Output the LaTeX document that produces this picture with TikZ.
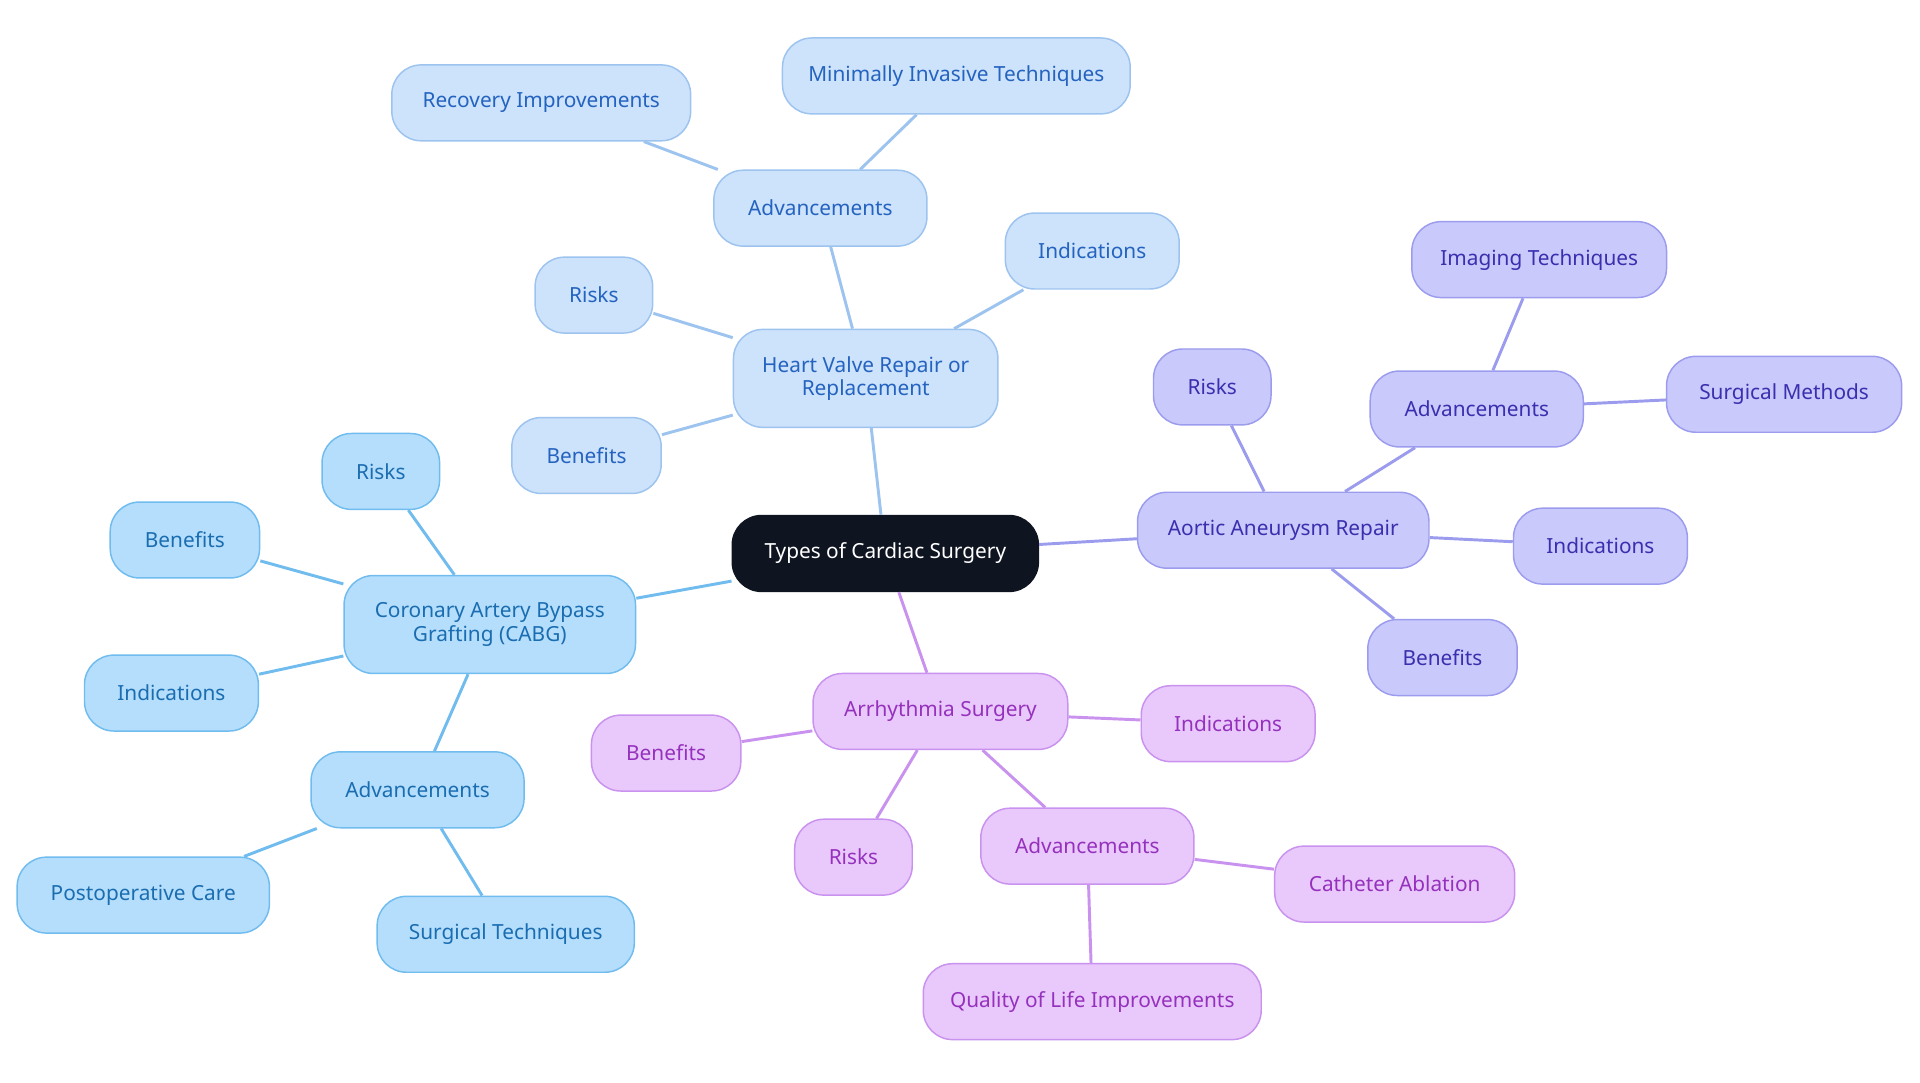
\documentclass[tikz,border=0pt]{standalone}
\usepackage{fontspec}
\setmainfont{Noto Sans}
\begin{document}
\begin{tikzpicture}[x=0.5pt,y=-0.5pt,
 base/.style={rounded corners=12pt,draw,line width=0.6pt,align=center,inner sep=0pt,minimum height=31pt,font=\fontsize{8.5}{9.5}\selectfont},
 wd/.style={minimum width=#1*0.5pt},
 cb/.style={base,fill=cbF,draw=cbD,text=cbT},
 hv/.style={base,fill=hvF,draw=hvD,text=hvT},
 ao/.style={base,fill=aoF,draw=aoD,text=aoT},
 ar/.style={base,fill=arF,draw=arD,text=arT},
 ecb/.style={draw=cbD,line width=1.2pt},
 ehv/.style={draw=hvD,line width=1.2pt},
 eao/.style={draw=aoD,line width=1.2pt},
 ear/.style={draw=arD,line width=1.2pt}]
\definecolor{cbF}{HTML}{B5DEFC}\definecolor{cbD}{HTML}{70BCEE}\definecolor{cbT}{HTML}{1A6DB0}
\definecolor{hvF}{HTML}{CDE2FB}\definecolor{hvD}{HTML}{9DC3EF}\definecolor{hvT}{HTML}{2463BF}
\definecolor{aoF}{HTML}{C9C9FB}\definecolor{aoD}{HTML}{9C9CEE}\definecolor{aoT}{HTML}{3A2FAE}
\definecolor{arF}{HTML}{E9C9FB}\definecolor{arD}{HTML}{C992EE}\definecolor{arT}{HTML}{9531BD}
\useasboundingbox (0,0) rectangle (1568,884);
\node[base,fill={rgb,255:red,14;green,20;blue,32},draw={rgb,255:red,14;green,20;blue,32},text=white,wd=250] (c) at (723,452) {Types of Cardiac Surgery};
% CABG
\node[cb,wd=238,minimum height=40pt] (cabg) at (400,510) {Coronary Artery Bypass\\Grafting (CABG)};
\node[cb,wd=96] (cr) at (311,385) {Risks};
\node[cb,wd=122] (cbn) at (151,441) {Benefits};
\node[cb,wd=142] (ci) at (140,566) {Indications};
\node[cb,wd=174] (ca) at (341,645) {Advancements};
\node[cb,wd=206] (cp) at (117,731) {Postoperative Care};
\node[cb,wd=210] (cs) at (413,763) {Surgical Techniques};
% HV
\node[hv,wd=216,minimum height=40pt] (hv) at (707,309) {Heart Valve Repair or\\Replacement};
\node[hv,wd=96] (hr) at (485,241) {Risks};
\node[hv,wd=122] (hb) at (479,372) {Benefits};
\node[hv,wd=142] (hi) at (892,205) {Indications};
\node[hv,wd=174] (ha) at (670,170) {Advancements};
\node[hv,wd=244] (hre) at (442,84) {Recovery Improvements};
\node[hv,wd=284] (hm) at (781,62) {Minimally Invasive Techniques};
% Aortic
\node[ao,wd=238] (ao) at (1048,433) {Aortic Aneurysm Repair};
\node[ao,wd=96] (aor) at (990,316) {Risks};
\node[ao,wd=174] (aoa) at (1206,334) {Advancements};
\node[ao,wd=208] (aoi) at (1257,212) {Imaging Techniques};
\node[ao,wd=192] (aos) at (1457,322) {Surgical Methods};
\node[ao,wd=142] (aoin) at (1307,446) {Indications};
\node[ao,wd=122] (aob) at (1178,537) {Benefits};
% Arr
\node[ar,wd=208] (ar) at (768,581) {Arrhythmia Surgery};
\node[ar,wd=122] (arb) at (544,615) {Benefits};
\node[ar,wd=142] (ari) at (1003,591) {Indications};
\node[ar,wd=96] (arr) at (697,700) {Risks};
\node[ar,wd=174] (ara) at (888,691) {Advancements};
\node[ar,wd=196] (arc) at (1139,722) {Catheter Ablation};
\node[ar,wd=276] (arq) at (892,818) {Quality of Life Improvements};
\begin{scope}[on background layer/.style={}]
\end{scope}
\begin{pgfinterruptboundingbox}\end{pgfinterruptboundingbox}
\draw[ecb] (c) -- (cabg); \draw[ecb] (cabg) -- (cr); \draw[ecb] (cabg) -- (cbn); \draw[ecb] (cabg) -- (ci);
\draw[ecb] (cabg) -- (ca); \draw[ecb] (ca) -- (cp); \draw[ecb] (ca) -- (cs);
\draw[ehv] (c) -- (hv); \draw[ehv] (hv) -- (hr); \draw[ehv] (hv) -- (hb); \draw[ehv] (hv) -- (hi);
\draw[ehv] (hv) -- (ha); \draw[ehv] (ha) -- (hre); \draw[ehv] (ha) -- (hm);
\draw[eao] (c) -- (ao); \draw[eao] (ao) -- (aor); \draw[eao] (ao) -- (aoa); \draw[eao] (aoa) -- (aoi);
\draw[eao] (aoa) -- (aos); \draw[eao] (ao) -- (aoin); \draw[eao] (ao) -- (aob);
\draw[ear] (c) -- (ar); \draw[ear] (ar) -- (arb); \draw[ear] (ar) -- (ari); \draw[ear] (ar) -- (arr);
\draw[ear] (ar) -- (ara); \draw[ear] (ara) -- (arc); \draw[ear] (ara) -- (arq);
\end{tikzpicture}
\end{document}
